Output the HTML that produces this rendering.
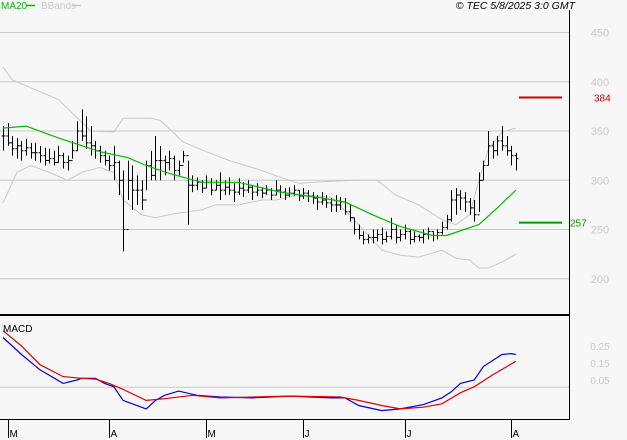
<!DOCTYPE html>
<html><head><meta charset="utf-8"><style>
html,body{margin:0;padding:0;background:#f7f7f7;}
svg{display:block;font-family:"Liberation Sans",sans-serif;}
</style></head><body>
<svg id="chart" width="627" height="440" viewBox="0 0 627 440" xmlns="http://www.w3.org/2000/svg">
<rect x="0" y="0" width="627" height="440" fill="#f7f7f7"/>
<g id="grid"></g>
<g id="bands"></g>
<g id="bars"></g>
<g id="ma"></g>
<g id="macd"></g>
<g id="axes"></g>
<text x="1" y="9" font-size="10" fill="#00bb00">MA20</text>
<line x1="26" y1="5.5" x2="35" y2="5.5" stroke="#00bb00" stroke-width="1.5"/>
<text x="41" y="9" font-size="10" fill="#c8c8c8">BBands</text>
<line x1="72" y1="5.5" x2="81" y2="5.5" stroke="#c8c8c8" stroke-width="1.5"/>
<text x="575" y="9" font-size="10.5" font-style="italic" text-anchor="end" fill="#000">© TEC 5/8/2025 3:0 GMT</text>
<text x="3" y="332" font-size="10" fill="#000">MACD</text>
</svg>
<script>
const priceTicks = [200, 250, 300, 350, 400, 450];
const macdTicks = ["0.25", "0.15", "0.05"];
const macdTickVals = [0.25, 0.15, 0.05];
const monthLabels = ["M", "A", "M", "J", "J", "A"];
const monthIdx = [1, 23, 44, 65, 87, 110];
const highs = [355,358,345,343,340,342,338, 338,335,333,332,330,335,328,325,340, 360,372,365,355, 340,335,330,325,335,320, 310,320,315, 305,300,320,330, 345, 335,325,330,325,320,330, 320, 305,303,300,305,302,300,308,300,303,297, 302,298,300,295,297,293,295,292, 300,295,292,293,295,290,292, 290,288,285,288,285,282, 285,283,282,275, 262,255,248,245, 250,250,252,248,262,255,250,255,250,248,245,250,252,248,250,258, 265,290,292,290, 288,282,280, 308, 320, 350,340,345,355, 345,335,328];
const lows = [330,335,325,322,320,325,322, 320,318,315,317,315,318,312,310,322, 330,340,332,325, 322,318,315,310,300,285, 228,280,270, 275,270,290,300, 300, 300,305,310,300,305,318, 255, 288,290,287,292,285,290,280,285,285,278, 285,283,287,280,284,282,285,280, 285,282,280,283,284,279,281, 278,276,270,275,272,268, 268,270,265,258, 245,240,235,236, 236,238,235,237,240,236,238,240,235,237,238,236,240,238,240,245, 250,258,265,270, 268,265,258, 268, 300, 315,322,325,330, 325,315,310];
const closes = [345,338,332,335,330,333,328, 328,325,320,322,318,325,318,320,330, 350,345,338,335, 330,325,320,315,318,300, 250,300,290, 290,280,315,305, 320, 320,318,322,310,315,325, 295, 295,298,292,298,290,295,290,293,290,288, 292,290,293,288,290,287,290,285, 290,288,285,287,290,284,287, 284,282,278,280,277,275, 275,278,268,262, 250,244,240,242, 242,245,240,243,250,242,245,248,240,243,242,245,248,244,247,252, 260,280,285,282, 278,272,265, 300, 315, 335,330,340,335, 330,325,322];
const maIdx = [0,5,12,21,27,31,36,43,51,60,69,74,80,86,93,96,103,107,111];
const maVals = [353,355,343,329,323,315,307,298,298,288,282,278,265,253,244,244,255,272,290];
const upIdx = [0,2,8,12,19,24,26,32,34,39,43,49,56,60,64,71,77,81,85,90,95,98,101,103,105,108,111];
const upVals = [415,402,390,382,350,349,363,363,361,339,331,320,310,303,297,299,300,300,285,275,260,255,265,300,331,349,353];
const loIdx = [0,3,6,10,14,17,21,24,26,30,33,37,43,46,51,56,59,64,71,76,82,86,90,95,98,101,103,105,108,111];
const loVals = [277,308,315,308,300,308,313,308,280,265,262,266,270,275,275,280,280,285,283,260,229,224,222,229,221,219,211,211,217,225];
const macdIdx = [0,4,8,13,16,17,20,22,24,26,31,33,35,38,42,47,54,62,71,74,77,82,86,91,95,97,99,102,104,108,110,111];
const macdVals = [0.30,0.20,0.11,0.03,0.05,0.06,0.06,0.03,0.01,-0.07,-0.12,-0.07,-0.04,-0.015,-0.04,-0.05,-0.055,-0.045,-0.055,-0.055,-0.10,-0.13,-0.12,-0.095,-0.055,-0.02,0.03,0.05,0.13,0.20,0.205,0.20];
const sigIdx = [0,4,8,13,17,20,23,26,31,35,41,47,62,73,77,82,86,91,95,99,102,106,111];
const sigVals = [0.34,0.25,0.14,0.07,0.06,0.055,0.03,-0.005,-0.07,-0.06,-0.04,-0.055,-0.045,-0.05,-0.07,-0.10,-0.12,-0.11,-0.09,-0.025,0.01,0.08,0.16];

const NS = "http://www.w3.org/2000/svg";
const xScale = i => 3 + i * 4.62;
const yP = v => 180.3 - (v - 300) * 0.985;
const yM = v => 346 - (v - 0.25) * 170;
function mk(tag, attrs, parent) {
  const e = document.createElementNS(NS, tag);
  for (const k in attrs) e.setAttribute(k, attrs[k]);
  parent.appendChild(e);
  return e;
}
const grid = document.getElementById('grid');
priceTicks.forEach(v => {
  const l = mk('line', {x1: 0, x2: 569, y1: yP(v), y2: yP(v), stroke: '#c8c8c8', 'stroke-width': 1}, grid);
  
  
  const t = mk('text', {x: 600, y: yP(v) + 4, 'font-size': 11, fill: '#c8c8c8', 'text-anchor': 'middle'}, grid);
  t.textContent = v;
  
  
});
function poly(idx, vals, yf, color, w, parent, name) {
  const pts = idx.map((d, k) => xScale(d).toFixed(1) + ',' + yf(vals[k]).toFixed(1)).join(' ');
  const p = mk('polyline', {points: pts, fill: 'none', stroke: color, 'stroke-width': w}, parent);
  
  
}
const bands = document.getElementById('bands');
poly(upIdx, upVals, yP, '#c8c8c8', 1, bands, 'upper-band');
poly(loIdx, loVals, yP, '#c8c8c8', 1, bands, 'lower-band');
const bars = document.getElementById('bars');
closes.forEach((c, i) => {
  const x = Math.round(xScale(i)) + 0.5;
  const o = i > 0 ? closes[i - 1] : c;
  const g = mk('g', {stroke: '#000', 'stroke-width': 1}, bars);
  
  
  mk('line', {x1: x, x2: x, y1: yP(highs[i]), y2: yP(lows[i])}, g);
  mk('line', {x1: x - 2, x2: x, y1: yP(o), y2: yP(o)}, g);
  mk('line', {x1: x, x2: x + 2, y1: yP(c), y2: yP(c)}, g);
});
poly(maIdx, maVals, yP, '#00bb00', 1.2, document.getElementById('ma'), 'ma20');
const macd = document.getElementById('macd');
const zl = mk('line', {x1: 0, x2: 569, y1: 387.3, y2: 387.3, stroke: '#c8c8c8'}, macd);


macdTicks.forEach((s, k) => {
  const t = mk('text', {x: 600, y: yM(macdTickVals[k]) + 4, 'font-size': 10, fill: '#c8c8c8', 'text-anchor': 'middle'}, macd);
  t.textContent = s;
  
  
});
poly(macdIdx, macdVals, yM, '#0000dd', 1.2, macd, 'macd-line');
poly(sigIdx, sigVals, yM, '#dd0000', 1.2, macd, 'signal-line');
const axes = document.getElementById('axes');
[['line', {x1: 569.5, x2: 569.5, y1: 10, y2: 420, stroke: '#000'}, 'right-axis'],
 ['line', {x1: 0, x2: 570, y1: 315, y2: 315, stroke: '#000', 'stroke-width': 2}, 'panel-divider'],
 ['line', {x1: 0, x2: 570, y1: 419.5, y2: 419.5, stroke: '#000'}, 'x-axis'],
 ['line', {x1: 519, x2: 562, y1: yP(384), y2: yP(384), stroke: '#cc0000', 'stroke-width': 2}, 'target-384-line'],
 ['line', {x1: 519, x2: 562, y1: yP(257), y2: yP(257), stroke: '#009900', 'stroke-width': 2}, 'target-257-line']
].forEach(([tag, a, n]) => {
  const e = mk(tag, a, axes);
  
  
});
const t1 = mk('text', {x: 594, y: yP(384) + 4, 'font-size': 10, fill: '#cc0000'}, axes);
t1.textContent = '384';


const t2 = mk('text', {x: 570, y: yP(257) + 4, 'font-size': 10, fill: '#009900'}, axes);
t2.textContent = '257';


monthLabels.forEach((m, k) => {
  const x = Math.round(xScale(monthIdx[k])) + 0.5;
  const l = mk('line', {x1: x, x2: x, y1: 420, y2: 438, stroke: '#000'}, axes);
  
  
  const t = mk('text', {x: x + 1, y: 437, 'font-size': 10, fill: '#000'}, axes);
  t.textContent = m;
  
  
});
</script>
</body></html>
